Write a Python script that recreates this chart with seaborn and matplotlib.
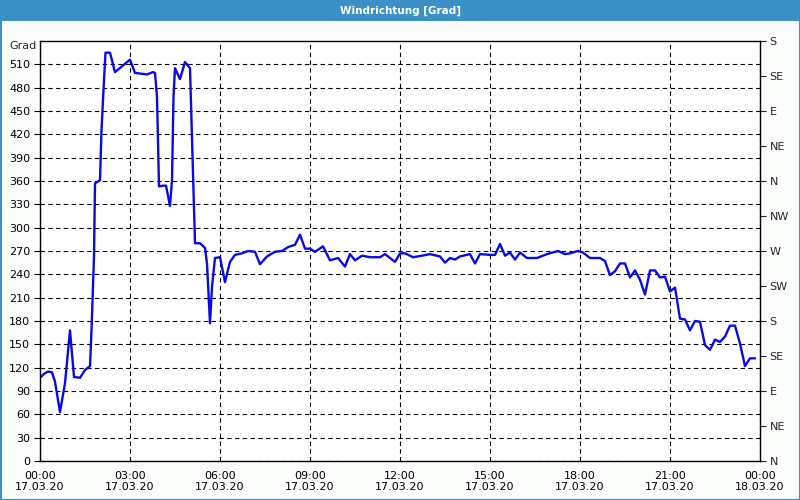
import matplotlib
matplotlib.use("Agg")
import matplotlib.pyplot as plt
import seaborn as sns
import pandas as pd
from matplotlib.patches import Rectangle
from matplotlib.transforms import offset_copy

# minutes since 17.03.20 00:00
minutes = [0, 8, 16, 24, 30, 40, 50, 60, 68, 80, 90, 100, 103, 108, 110, 120, 123, 128, 131, 140,
           150, 180, 190, 214, 226, 230, 234, 238, 246, 252, 260, 264, 267, 270, 280, 290, 300, 302,
           306, 310, 320, 330, 334, 340, 344, 350, 360, 370, 380, 390, 404, 416, 430, 440, 454, 470,
           484, 496, 510, 520, 530, 540, 550, 566, 580, 596, 610, 620, 630, 644, 660, 680, 690, 710,
           720, 730, 746, 764, 780, 800, 810, 820, 830, 840, 860, 870, 880, 900, 910, 920, 930, 940,
           950, 960, 974, 994, 1014, 1036, 1050, 1060, 1076, 1086, 1100, 1120, 1130, 1140, 1150, 1160,
           1170, 1180, 1190, 1200, 1210, 1220, 1230, 1240, 1250, 1260, 1270, 1280, 1290, 1300, 1310,
           1320, 1330, 1340, 1350, 1360, 1370, 1380, 1390, 1400, 1410, 1420, 1430]
grad = [107, 112, 115, 114, 102, 63, 100, 168, 108, 107, 117, 122, 168, 263, 357, 361, 425, 490, 525, 525,
        500, 516, 499, 497, 500, 499, 468, 353, 354, 354, 328, 361, 468, 505, 491, 513, 505, 460,
        370, 280, 280, 274, 254, 177, 224, 261, 262, 230, 256, 265, 267, 270, 269, 253, 263, 269,
        270, 275, 278, 291, 273, 273, 269, 276, 258, 261, 250, 266, 258, 264, 262, 262, 266, 256,
        267, 267, 262, 264, 266, 263, 255, 261, 259, 263, 266, 254, 266, 265, 265, 279, 264, 268,
        259, 268, 261, 261, 266, 270, 266, 267, 270, 268, 261, 261, 257, 239, 244, 254,
        254, 236, 245, 233, 214, 245, 245, 236, 237, 218, 223, 183, 182, 168, 180,
        179, 149, 143, 156, 153, 160, 174, 174, 151, 122, 132, 132]

x_tick_labels = ["00:00\n17.03.20", "03:00\n17.03.20", "06:00\n17.03.20", "09:00\n17.03.20",
                 "12:00\n17.03.20", "15:00\n17.03.20", "18:00\n17.03.20", "21:00\n17.03.20",
                 "00:00\n18.03.20"]
left_ticks = list(range(0, 540, 30))
right_labels = ["N", "NE", "E", "SE", "S", "SW", "W", "NW", "N", "NE", "E", "SE", "S"]

df = pd.DataFrame({"hours": [m / 60 for m in minutes], "grad": grad})

sns.set_style("white")
plt.rcParams["font.family"] = ["DejaVu Sans"]

fig = plt.figure(figsize=(8, 5), dpi=100, facecolor="#fbfdfb")
ax = fig.add_axes([40 / 800, 39 / 500, 720 / 800, 420 / 500])
ax.set_facecolor("white")

sns.lineplot(data=df, x="hours", y="grad", ax=ax, color="#0a0ae6", linewidth=1.7)

ax.set_xlim(0, 24)
ax.set_ylim(0, 540)
ax.set_xticks(range(0, 25, 3))
ax.set_xticklabels(x_tick_labels, fontsize=8)
ax.set_xticks(range(0, 25), minor=True)
ax.set_yticks(left_ticks)
ax.set_yticklabels([str(v) for v in left_ticks], fontsize=8)
ax.set_xlabel("")
ax.set_ylabel("")
ax.grid(True, which="major", color="black", linestyle=(0, (4, 3)), linewidth=0.8)
ax.tick_params(axis="both", which="both", direction="out", length=4, width=0.8,
               color="black", labelcolor="black", pad=3)
ax.tick_params(axis="x", which="minor", length=4)
for s in ax.spines.values():
    s.set_color("black")
    s.set_linewidth(1)
    s.set_visible(True)

ax2 = ax.twinx()
ax2.set_ylim(0, 540)
ax2.set_yticks(range(0, 541, 45))
ax2.set_yticklabels(right_labels, fontsize=8)
ax2.tick_params(axis="y", direction="out", length=4, width=0.8, pad=3)
for s in ax2.spines.values():
    s.set_visible(False)

grad_tr = offset_copy(ax.get_yaxis_transform(), fig=fig, x=-3, y=-5, units="dots")
ax.text(0, 540, "Grad", transform=grad_tr, ha="right", va="center", fontsize=8)
ax.set_zorder(1)
ax2.set_zorder(0)

# title bar and border
fig.patches.append(Rectangle((0, 479 / 500), 1, 21 / 500, transform=fig.transFigure,
                             facecolor="#3c90c8", edgecolor="none", zorder=0))
fig.patches.append(Rectangle((0.5 / 800, 0.5 / 500), 799 / 800, 499 / 500, transform=fig.transFigure,
                             facecolor="none", edgecolor="#3c90c8", linewidth=1.5, zorder=0))
fig.text(0.5, 489.5 / 500, "Windrichtung [Grad]", ha="center", va="center", color="white",
         fontsize=7.5, fontweight="bold")

fig.savefig("out.png", dpi=100, facecolor=fig.get_facecolor())
